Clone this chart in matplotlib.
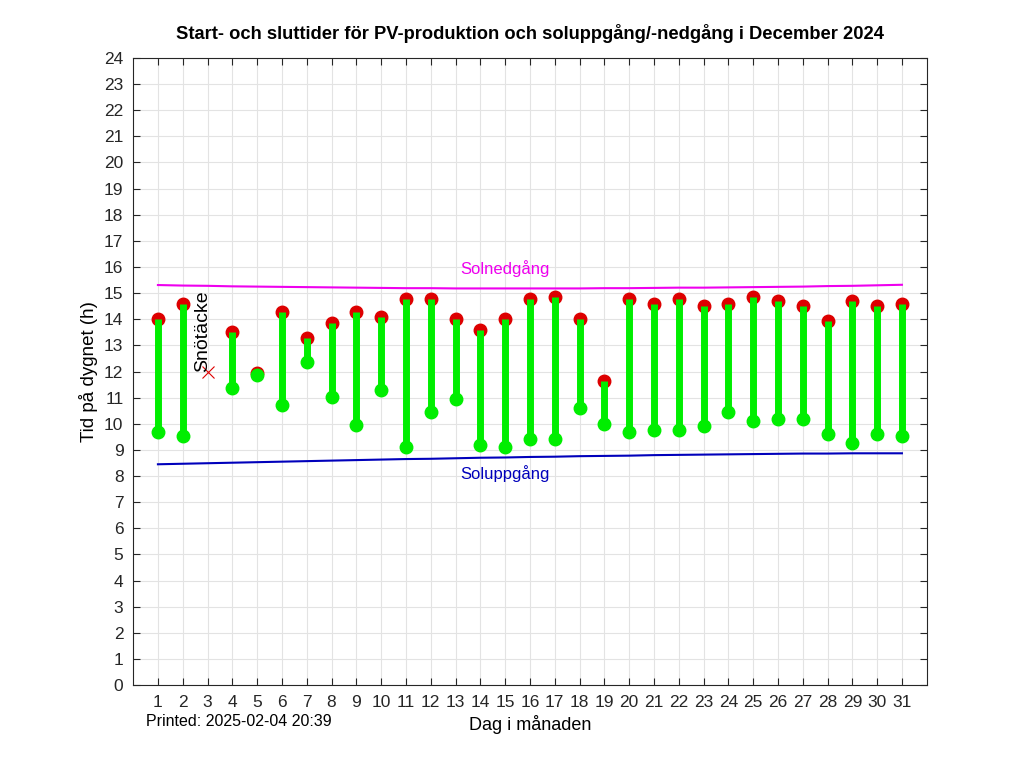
import numpy as np
import matplotlib
matplotlib.use("Agg")
import matplotlib.pyplot as plt

plt.rcParams['font.family'] = ['Liberation Sans', 'DejaVu Sans']

# dagar i december 2024
days = list(range(1, 32))

# start av PV-produktion (h), None = ingen produktion (snötäcke)
pv_start = [9.70, 9.55, None, 11.37, 11.85, 10.72, 12.36, 11.04, 9.95, 11.29,
            9.10, 10.45, 10.95, 9.18, 9.10, 9.43, 9.43, 10.62, 10.01, 9.68,
            9.76, 9.76, 9.93, 10.44, 10.10, 10.18, 10.18, 9.60, 9.26, 9.60, 9.54]

# slut av PV-produktion (h)
pv_stop = [14.02, 14.60, None, 13.52, 11.93, 14.27, 13.27, 13.87, 14.27, 14.10,
           14.78, 14.78, 14.02, 13.60, 14.02, 14.78, 14.86, 14.02, 11.62, 14.78,
           14.58, 14.78, 14.52, 14.60, 14.86, 14.68, 14.52, 13.93, 14.68, 14.52, 14.60]

# soluppgång / solnedgång (h)
sunrise = [8.45, 8.47, 8.49, 8.51, 8.53, 8.55, 8.57, 8.59, 8.61, 8.63,
           8.65, 8.66, 8.68, 8.70, 8.71, 8.73, 8.74, 8.76, 8.77, 8.78,
           8.80, 8.81, 8.82, 8.83, 8.84, 8.85, 8.86, 8.86, 8.87, 8.87, 8.87]
sunset = [15.31, 15.29, 15.28, 15.26, 15.25, 15.24, 15.23, 15.22, 15.21, 15.20,
          15.19, 15.19, 15.18, 15.18, 15.18, 15.18, 15.18, 15.18, 15.19, 15.19,
          15.20, 15.21, 15.21, 15.22, 15.23, 15.24, 15.25, 15.27, 15.28, 15.30, 15.32]

snow_day = 3
snow_level = 12.0

fig = plt.figure(figsize=(10.24, 7.68), dpi=100)
ax = fig.add_axes([0.130, 0.108, 0.775, 0.8165])

green = '#00ee00'
for d, s, e in zip(days, pv_start, pv_stop):
    if s is None:
        continue
    ax.plot([d], [e], 'o', color='#dd0000', markersize=9, zorder=3)
    ax.plot([d, d], [s, e], '-', color=green, linewidth=5,
            solid_capstyle='butt', zorder=4)
    ax.plot([d], [s], 'o', color=green, markersize=9, zorder=4)

ax.plot(days, sunrise, color='#0000bb', linewidth=1.5, zorder=2)
ax.plot(days, sunset, color='#ee00ee', linewidth=1.5, zorder=2)
ax.text(15, 15.95, 'Solnedgång', color='#ee00ee', fontsize=12,
        ha='center', va='center')
ax.text(15, 8.1, 'Soluppgång', color='#0000bb', fontsize=12,
        ha='center', va='center')

ax.plot([snow_day], [snow_level], 'x', color='#dd0000', markersize=8,
        markeredgewidth=0.8, zorder=3)
ax.text(snow_day - 0.2, snow_level, 'Snötäcke', rotation=90, fontsize=14,
        ha='center', va='bottom', color='black')

ax.set_xlim(0, 32)
ax.set_ylim(0, 24)
ax.set_xticks(days)
ax.set_yticks(range(0, 25))
ax.grid(True, color='#e3e3e3', linewidth=0.8)
ax.set_axisbelow(True)
ax.tick_params(direction='in', top=True, right=True, length=5,
               labelsize=12.5, colors='#262626', pad=7)
for sp in ax.spines.values():
    sp.set_color('#262626')
    sp.set_linewidth(0.8)

ax.set_title('Start- och sluttider för PV-produktion och soluppgång/-nedgång i December 2024',
             fontsize=13.2, fontweight='bold', pad=14)
ax.set_xlabel('Dag i månaden', fontsize=13, labelpad=4)
ax.set_ylabel('Tid på dygnet (h)', fontsize=13.5, labelpad=4)
fig.text(0.143, 0.055, 'Printed: 2025-02-04 20:39', fontsize=11.5)

fig.savefig('out.png', dpi=100)
